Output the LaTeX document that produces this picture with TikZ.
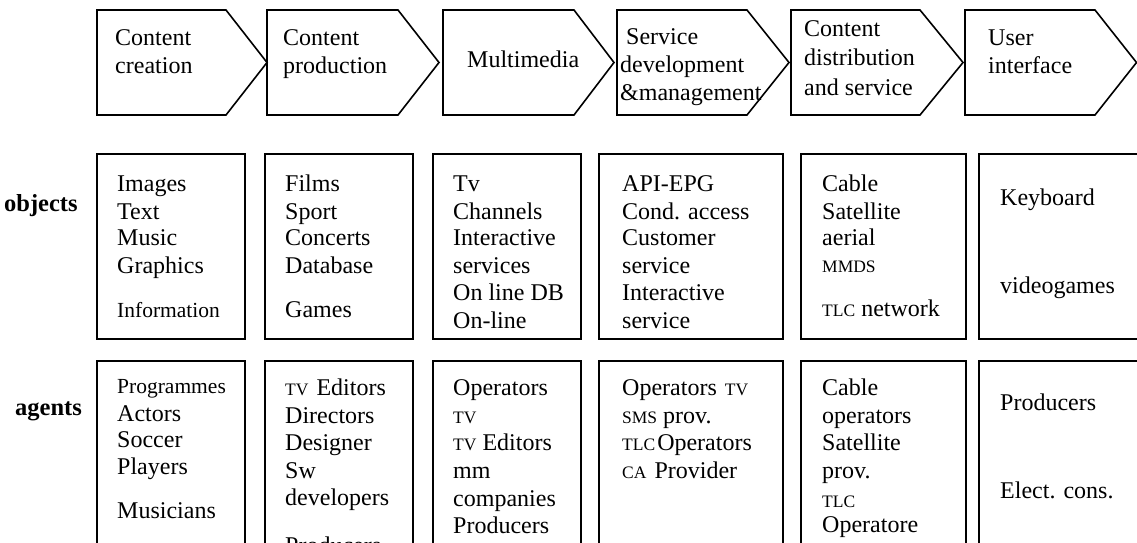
\documentclass[tikz,border=0pt]{standalone}
\usepackage{fontspec}
\setmainfont{Liberation Serif}
\begin{document}
\begin{tikzpicture}[x=1pt,y=-1pt,
  shp/.style={draw=black,line width=1.6pt,line join=miter},
  tx/.style={anchor=base west,inner sep=0pt,font=\fontsize{24}{28}\selectfont},
  txs/.style={anchor=base west,inner sep=0pt,font=\fontsize{21.5}{25}\selectfont},
  lbl/.style={anchor=base west,inner sep=0pt,font=\fontsize{24.5}{28}\selectfont\bfseries}]
\newcommand\sm[1]{{\fontsize{17.5}{20}\selectfont #1}}
\clip (0,0) rectangle (1137,542);
\fill[white] (0,0) rectangle (1137,542);
% chevrons
\draw[shp] (97,10) -- (226,10) -- (267,62.5) -- (226,115) -- (97,115) -- cycle;
\draw[shp] (267,10) -- (398,10) -- (439,62.5) -- (398,115) -- (267,115) -- cycle;
\draw[shp] (443,10) -- (574,10) -- (614,62.5) -- (574,115) -- (443,115) -- cycle;
\draw[shp] (617,10) -- (747,10) -- (789,62.5) -- (747,115) -- (617,115) -- cycle;
\draw[shp] (791,10) -- (920,10) -- (963,62.5) -- (920,115) -- (791,115) -- cycle;
\draw[shp] (965,10) -- (1095,10) -- (1136.5,62.5) -- (1095,115) -- (965,115) -- cycle;
% object boxes
\draw[shp] (97,154) rectangle (245,339);
\draw[shp] (265,154) rectangle (413,339);
\draw[shp] (433,154) rectangle (581,339);
\draw[shp] (599,154) rectangle (783,339);
\draw[shp] (801,154) rectangle (966,339);
\draw[shp] (979,154) rectangle (1160,339);
% agent boxes
\draw[shp] (97,361) rectangle (245,560);
\draw[shp] (265,361) rectangle (413,560);
\draw[shp] (433,361) rectangle (581,560);
\draw[shp] (599,361) rectangle (783,560);
\draw[shp] (801,361) rectangle (966,560);
\draw[shp] (979,361) rectangle (1160,560);
% chevron texts
\node[tx] (c1a) at (115,45) {Content};
\node[tx] (c1b) at (115,73) {creation};
\node[tx] (c2a) at (283,45) {Content};
\node[tx] (c2b) at (283,73) {production};
\node[tx] (c3a) at (467,67) {Multimedia};
\node[tx] (c4a) at (626,44) {Service};
\node[tx] (c4b) at (620,72) {development};
\node[tx] (c4c) at (620,100) {\&management};
\node[tx] (c5a) at (804,36) {Content};
\node[tx] (c5b) at (804,65) {distribution};
\node[tx] (c5c) at (804,95) {and service};
\node[tx] (c6a) at (988,45) {User};
\node[tx] (c6b) at (988,73) {interface};
% row labels
\node[lbl] (lo) at (4,211) {objects};
\node[lbl] (la) at (15,415) {agents};
% objects texts
\node[tx] (o1a) at (117,191) {Images};
\node[tx] (o1b) at (117,219) {Text};
\node[tx] (o1c) at (117,245) {Music};
\node[tx] (o1d) at (117,273) {Graphics};
\node[txs] (o1e) at (117,317) {Information};
\node[tx] (o2a) at (285,191) {Films};
\node[tx] (o2b) at (285,219) {Sport};
\node[tx] (o2c) at (285,245) {Concerts};
\node[tx] (o2d) at (285,273) {Database};
\node[tx] (o2e) at (285,317) {Games};
\node[tx] (o3a) at (453,191) {Tv};
\node[tx] (o3b) at (453,219) {Channels};
\node[tx] (o3c) at (453,245) {Interactive};
\node[tx] (o3d) at (453,273) {services};
\node[tx] (o3e) at (453,300) {On line DB};
\node[tx] (o3f) at (453,328) {On-line};
\node[tx] (o4a) at (622,191) {API-EPG};
\node[tx] (o4b) at (622,219) {Cond. access};
\node[tx] (o4c) at (622,245) {Customer};
\node[tx] (o4d) at (622,273) {service};
\node[tx] (o4e) at (622,300) {Interactive};
\node[tx] (o4f) at (622,328) {service};
\node[tx] (o5a) at (822,191) {Cable};
\node[tx] (o5b) at (822,219) {Satellite};
\node[tx] (o5c) at (822,245) {aerial};
\node[tx] (o5d) at (822,272) {\sm{MMDS}};
\node[tx] (o5e) at (822,316) {\sm{TLC} network};
\node[tx] (o6a) at (1000,205) {Keyboard};
\node[tx] (o6b) at (1000,293) {videogames};
% agents texts
\node[txs] (a1a) at (117,393) {Programmes};
\node[tx] (a1b) at (117,421) {Actors};
\node[tx] (a1c) at (117,447) {Soccer};
\node[tx] (a1d) at (117,474) {Players};
\node[tx] (a1e) at (117,518) {Musicians};
\node[tx] (a2a) at (285,395) {\sm{TV}\hspace{8pt}Editors};
\node[tx] (a2b) at (285,423) {Directors};
\node[tx] (a2c) at (285,450) {Designer};
\node[tx] (a2d) at (285,478) {Sw};
\node[tx] (a2e) at (285,505) {developers};
\node[tx] (a2f) at (285,553) {Producers};
\node[tx] (a3a) at (453,395) {Operators};
\node[tx] (a3b) at (453,423) {\sm{TV}};
\node[tx] (a3c) at (453,450) {\sm{TV} Editors};
\node[tx] (a3d) at (453,478) {mm};
\node[tx] (a3e) at (453,506) {companies};
\node[tx] (a3f) at (453,533) {Producers};
\node[tx] (a4a) at (622,395) {Operators\hspace{8pt}\sm{TV}};
\node[tx] (a4b) at (622,423) {\sm{SMS} prov.};
\node[tx] (a4c) at (622,450) {\sm{TLC}\hspace{2pt}Operators};
\node[tx] (a4d) at (622,478) {\sm{CA}\hspace{8pt}Provider};
\node[tx] (a5a) at (822,395) {Cable};
\node[tx] (a5b) at (822,423) {operators};
\node[tx] (a5c) at (822,450) {Satellite};
\node[tx] (a5d) at (822,478) {prov.};
\node[tx] (a5e) at (822,507) {\sm{TLC}};
\node[tx] (a5f) at (822,532) {Operatore};
\node[tx] (a6a) at (1000,410) {Producers};
\node[tx] (a6b) at (1000,498) {Elect. cons.};
\end{tikzpicture}
\end{document}
